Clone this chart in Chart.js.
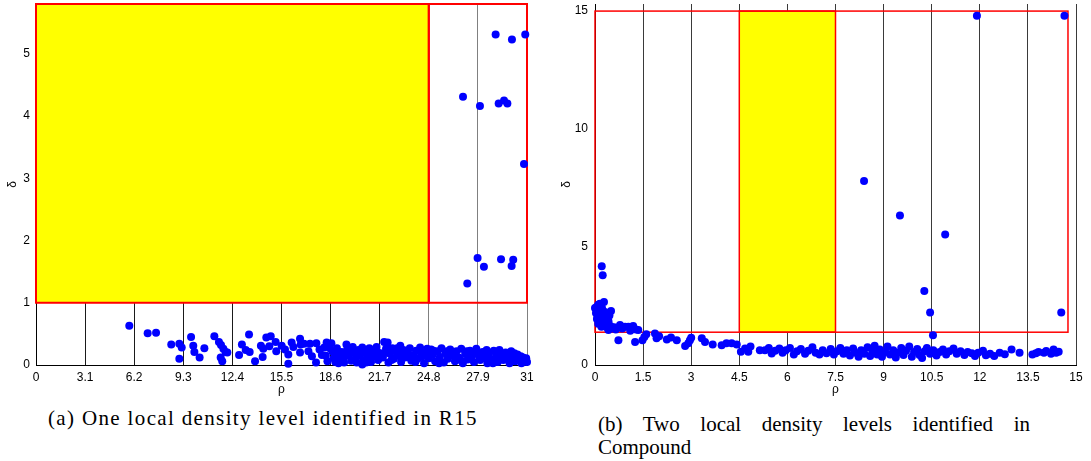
<!DOCTYPE html>
<html>
<head>
<meta charset="utf-8">
<script src="https://cdn.jsdelivr.net/npm/chart.js@4"></script>
<style>
  html, body { margin: 0; padding: 0; background: #fff; }
  body { width: 1091px; height: 461px; position: relative; overflow: hidden; }
  canvas { position: absolute; top: 0; }
  #r15 { left: 0; }
  #cmp { left: 550px; }
  .cap { position: absolute; font-family: 'Liberation Serif', serif; font-size: 21px; line-height: 23px; color: #000; white-space: nowrap; }
  #capA { left: 48px; top: 407px; letter-spacing: 1.35px; }
  #capB { left: 598px; top: 413px; width: 432px; }
  #capB .l1 { text-align: justify; text-align-last: justify; white-space: normal; }
</style>
</head>
<body>
<canvas id="r15" width="545" height="400"></canvas>
<canvas id="cmp" width="541" height="400"></canvas>
<div class="cap" id="capA">(a) One local density level identified in R15</div>
<div class="cap" id="capB"><div class="l1">(b) Two local density levels identified in</div><div>Compound</div></div>
<script>
// ---- R15: rho / delta decision graph ----
const r15RhoTicks = [0, 3.1, 6.2, 9.3, 12.4, 15.5, 18.6, 21.7, 24.8, 27.9, 31];
const r15DeltaTicks = [0, 1, 2, 3, 4, 5];
const r15Range = [0, 31, 0, 5.8];
// selected region [rhoFrom, rhoTo, deltaFrom, deltaTo]
const r15Shaded = [0, 24.8, 1, 5.8];
const r15Frame = [24.8, 31, 1, 5.8];

// cluster centres (high delta)
const r15Peaks = [
  [29.02, 5.31], [30.05, 5.23], [30.89, 5.31], [26.96, 4.31], [28.03, 4.16],
  [29.21, 4.20], [29.55, 4.25], [29.76, 4.20], [30.81, 3.23], [27.88, 1.72],
  [29.36, 1.70], [30.13, 1.69], [28.28, 1.58], [30.03, 1.59], [27.23, 1.31]
];
// low-density points, sparse part
const r15Sparse = [
  [5.89, 0.63], [7.05, 0.51], [7.58, 0.52], [8.54, 0.33], [9.05, 0.34], [9.2, 0.28], [9.05, 0.10],
  [9.79, 0.45], [9.93, 0.31], [10.0, 0.21], [10.33, 0.12], [10.63, 0.27], [11.26, 0.46], [11.55, 0.37],
  [11.68, 0.32], [11.83, 0.26], [11.97, 0.21], [12.08, 0.20], [11.66, 0.12], [11.76, 0.06], [12.82, 0.16],
  [13.0, 0.33], [13.24, 0.24], [13.45, 0.49], [13.49, 0.21], [13.83, 0.06], [14.2, 0.31], [14.35, 0.26],
  [14.31, 0.13], [14.54, 0.44], [14.82, 0.46], [14.73, 0.30], [15.13, 0.37], [15.17, 0.22], [15.51, 0.31],
  [15.72, 0.25], [15.93, 0.17], [16.14, 0.36], [16.25, 0.29], [16.67, 0.42], [16.71, 0.33], [16.67, 0.20],
  [16.92, 0.34], [17.3, 0.34], [17.2, 0.22], [17.42, 0.14], [17.68, 0.04], [15.93, 0.02], [17.7, 0.35],
  [17.9, 0.25], [18.05, 0.16]
];
// low-density points, dense band
const r15Band = [
  [18.2, 0.28], [18.3, 0.15], [18.4, 0.06], [18.35, 0.36], [18.65, 0.35], [18.7, 0.22], [18.8, 0.11],
  [19.0, 0.27], [19.05, 0.17], [19.1, 0.03], [19.3, 0.21], [19.4, 0.10], [19.45, 0.04], [19.6, 0.33],
  [19.65, 0.25], [19.75, 0.15], [19.9, 0.07], [20.0, 0.29], [20.1, 0.19], [20.2, 0.11], [20.35, 0.24],
  [20.45, 0.15], [20.6, 0.01], [20.6, 0.28], [20.7, 0.08], [20.8, 0.20], [20.95, 0.13], [21.05, 0.27],
  [21.15, 0.05], [21.3, 0.22], [21.4, 0.14], [21.5, 0.29], [21.6, 0.08], [21.75, 0.19], [21.9, 0.12],
  [21.98, 0.37], [22.2, 0.36], [22.1, 0.26], [22.25, 0.04], [22.35, 0.18], [22.5, 0.27], [22.6, 0.10],
  [22.75, 0.21], [22.9, 0.15], [23.0, 0.31], [23.05, 0.05], [23.2, 0.24], [23.3, 0.12], [23.45, 0.19],
  [23.6, 0.27], [23.7, 0.07], [23.85, 0.16], [24.0, 0.23], [24.1, 0.10], [24.25, 0.28], [24.4, 0.14],
  [24.5, 0.03], [24.65, 0.21], [24.8, 0.11], [24.95, 0.25], [25.05, 0.17], [25.2, 0.06], [25.35, 0.22],
  [25.5, 0.13], [25.6, 0.27], [25.75, 0.04], [25.85, 0.19], [26.0, 0.10], [26.15, 0.25], [26.3, 0.15],
  [26.45, 0.06], [26.55, 0.22], [26.7, 0.12], [26.85, 0.26], [26.95, 0.03], [27.1, 0.18], [27.25, 0.09],
  [27.4, 0.23], [27.5, 0.14], [27.65, 0.05], [27.8, 0.26], [27.9, 0.17], [28.05, 0.08], [28.2, 0.21],
  [28.35, 0.12], [28.5, 0.03], [28.6, 0.18], [28.75, 0.09], [28.9, 0.23], [29.05, 0.14], [29.15, 0.05],
  [29.26, 0.24], [29.4, 0.16], [29.5, 0.08], [29.65, 0.20], [29.8, 0.11], [29.9, 0.03], [30.0, 0.22],
  [30.1, 0.14], [30.25, 0.06], [30.4, 0.17], [30.5, 0.09], [30.65, 0.03], [30.75, 0.12], [30.84, 0.07],
  [30.95, 0.11], [31.0, 0.05],
  [18.55, 0.27], [18.9, 0.05], [19.2, 0.12], [19.55, 0.19], [19.85, 0.22], [20.25, 0.04], [20.5, 0.21],
  [20.85, 0.04], [21.2, 0.16], [21.55, 0.21], [22.0, 0.19], [22.45, 0.08], [22.8, 0.27], [23.15, 0.17],
  [23.55, 0.12], [23.95, 0.05], [24.3, 0.20], [24.7, 0.26], [25.1, 0.23], [25.45, 0.03], [25.95, 0.22],
  [26.4, 0.19], [26.8, 0.08], [27.2, 0.22], [27.6, 0.19], [28.0, 0.13], [28.45, 0.24], [28.85, 0.03],
  [29.3, 0.10], [29.75, 0.17], [30.2, 0.19], [30.6, 0.14]
];

// ---- Compound: rho / delta decision graph ----
const cmpRhoTicks = [0, 1.5, 3, 4.5, 6, 7.5, 9, 10.5, 12, 13.5, 15];
const cmpDeltaTicks = [0, 5, 10, 15];
const cmpRange = [0, 15, 0, 15.3];
const cmpShaded = [4.5, 7.5, 1.39, 15];
const cmpFrame = [0, 14.75, 1.39, 15];

const cmpPeaks = [
  [11.91, 14.8], [14.64, 14.8], [8.39, 7.80], [9.51, 6.34], [10.92, 5.53], [10.27, 3.14],
  [10.45, 2.23], [10.54, 1.26], [14.54, 2.23], [0.21, 4.18], [0.24, 3.80]
];
const cmpHead = [
  [0.0, 2.42], [0.03, 2.2], [0.05, 2.46], [0.06, 1.95], [0.08, 2.05], [0.1, 2.55], [0.1, 1.75],
  [0.13, 2.32], [0.15, 2.6], [0.16, 1.9], [0.18, 2.15], [0.2, 1.62], [0.22, 2.4], [0.25, 1.8],
  [0.28, 2.67], [0.28, 2.05], [0.31, 2.25], [0.33, 1.7], [0.35, 1.95], [0.38, 2.12], [0.4, 1.55],
  [0.42, 1.85], [0.45, 2.1], [0.48, 1.65], [0.5, 2.29], [0.42, 1.48], [0.55, 1.55], [0.6, 1.6], [0.65, 1.5]
];
const cmpTail = [
  [0.73, 1.05], [0.78, 1.69], [0.85, 1.55], [0.94, 1.62], [1.04, 1.62], [1.1, 1.45], [1.19, 1.65],
  [1.25, 0.98], [1.28, 1.5], [1.35, 1.48], [1.48, 1.05], [1.54, 1.19], [1.6, 1.3], [1.87, 1.34],
  [1.92, 1.13], [2.0, 1.22], [2.24, 1.08], [2.37, 1.17], [2.55, 1.05], [2.81, 0.8], [2.91, 0.92],
  [2.96, 1.05], [3.0, 1.15], [3.33, 1.13], [3.43, 0.98], [3.67, 0.87], [3.95, 0.84], [4.1, 0.92],
  [4.26, 0.92], [4.42, 0.87]
];
const cmpBand = [
  [4.55, 0.56], [4.68, 0.70], [4.78, 0.56], [4.85, 0.78], [5.14, 0.63], [5.3, 0.63], [5.42, 0.72],
  [5.51, 0.49], [5.62, 0.6], [5.75, 0.7], [5.85, 0.52], [5.95, 0.62], [6.08, 0.72], [6.2, 0.45],
  [6.3, 0.58], [6.42, 0.68], [6.55, 0.48], [6.65, 0.6], [6.78, 0.75], [6.88, 0.52], [7.0, 0.44],
  [7.1, 0.62], [7.22, 0.5], [7.35, 0.68], [7.45, 0.45], [7.55, 0.58], [7.65, 0.72], [7.75, 0.48],
  [7.85, 0.62], [7.95, 0.4], [8.05, 0.7], [8.12, 0.52], [8.22, 0.35], [8.3, 0.62], [8.4, 0.48],
  [8.5, 0.75], [8.58, 0.38], [8.65, 0.58], [8.72, 0.82], [8.8, 0.45], [8.88, 0.66], [8.95, 0.35],
  [9.05, 0.55], [9.12, 0.78], [9.2, 0.45], [9.3, 0.62], [9.38, 0.32], [9.45, 0.52], [9.55, 0.72],
  [9.62, 0.42], [9.7, 0.6], [9.8, 0.78], [9.88, 0.35], [9.95, 0.55], [10.05, 0.68], [10.12, 0.42],
  [10.2, 0.3], [10.28, 0.58], [10.35, 0.72], [10.45, 0.48], [10.55, 0.62], [10.65, 0.4], [10.75, 0.55],
  [10.85, 0.66], [10.95, 0.45], [11.05, 0.58], [11.18, 0.7], [11.28, 0.48], [11.4, 0.58], [11.52, 0.42],
  [11.62, 0.55], [11.75, 0.5], [11.85, 0.38], [11.95, 0.52], [12.1, 0.6], [12.19, 0.41], [12.32, 0.48],
  [12.45, 0.38], [12.62, 0.52], [12.78, 0.46], [12.99, 0.66], [13.24, 0.52], [13.64, 0.45], [13.75, 0.5],
  [13.83, 0.55], [14.0, 0.52], [14.07, 0.59], [14.22, 0.48], [14.3, 0.66], [14.38, 0.52], [14.46, 0.56]
];

const tickFont = { family: "'Liberation Sans', Arial, sans-serif", size: 12 };

// yellow selection box + red frames, drawn over the grid but under the points
const regionPlugin = {
  id: 'regions',
  beforeDatasetsDraw(chart, args, opts) {
    const { ctx, scales: { x, y } } = chart;
    const rect = b => {
      const x0 = x.getPixelForValue(b[0]), x1 = x.getPixelForValue(b[1]);
      const y0 = y.getPixelForValue(b[3]), y1 = y.getPixelForValue(b[2]);
      return [x0, y0, x1 - x0, y1 - y0];
    };
    ctx.save();
    ctx.fillStyle = '#ffff00';
    opts.fills.forEach(b => ctx.fillRect(...rect(b)));
    ctx.strokeStyle = '#ff0000';
    ctx.lineWidth = opts.lineWidth;
    opts.frames.forEach(b => ctx.strokeRect(...rect(b)));
    ctx.restore();
  }
};

function toXY(...lists) {
  return [].concat(...lists).map(p => ({ x: p[0], y: p[1] }));
}

function decisionGraph(id, cfg) {
  return new Chart(document.getElementById(id), {
    type: 'scatter',
    data: {
      datasets: [{
        data: cfg.points,
        backgroundColor: '#0000ff',
        borderWidth: 0,
        pointRadius: 4,
        clip: false
      }]
    },
    plugins: [regionPlugin],
    options: {
      responsive: false,
      animation: false,
      events: [],
      layout: { padding: { top: 3, right: cfg.padRight, left: 0, bottom: 0 } },
      plugins: {
        legend: { display: false },
        tooltip: { enabled: false },
        regions: { fills: cfg.fills, frames: cfg.frames, lineWidth: cfg.frameWidth }
      },
      scales: {
        x: {
          type: 'linear',
          min: cfg.range[0],
          max: cfg.range[1],
          afterBuildTicks: s => { s.ticks = cfg.xTicks.map(v => ({ value: v })); },
          afterFit: s => { s.height = 35; s.paddingLeft = 0; s.paddingRight = 0; },
          ticks: { font: tickFont, color: '#000', padding: 5, maxRotation: 0, autoSkip: false, callback: v => String(v) },
          grid: { color: cfg.gridColor, lineWidth: 1, drawTicks: false },
          border: { display: true, color: '#000', width: 1 },
          title: { display: true, text: 'ρ', font: tickFont, color: '#000', padding: { top: 0, bottom: 3 } }
        },
        y: {
          type: 'linear',
          min: cfg.range[2],
          max: cfg.range[3],
          afterBuildTicks: s => { s.ticks = cfg.yTicks.map(v => ({ value: v })); },
          afterFit: s => { s.width = cfg.yWidth; s.paddingTop = 0; s.paddingBottom = 0; },
          ticks: { font: tickFont, color: '#000', padding: cfg.yPad, callback: v => String(v) },
          grid: { display: false, drawTicks: false },
          border: { display: true, color: '#000', width: 1 },
          title: { display: true, text: 'δ', font: tickFont, color: '#000', padding: { top: cfg.titlePad, bottom: 0 } }
        }
      }
    }
  });
}

decisionGraph('r15', {
  points: toXY(r15Band, r15Sparse, r15Peaks),
  range: r15Range,
  xTicks: r15RhoTicks,
  yTicks: r15DeltaTicks,
  fills: [r15Shaded],
  frames: [r15Shaded, r15Frame],
  frameWidth: 2,
  gridColor: c => (c.tick && c.tick.value >= 24.8 ? '#808080' : '#1a1a1a'),
  padRight: 18,
  yWidth: 36,
  yPad: 6,
  titlePad: 5
});

decisionGraph('cmp', {
  points: toXY(cmpBand, cmpTail, cmpHead, cmpPeaks),
  range: cmpRange,
  xTicks: cmpRhoTicks,
  yTicks: cmpDeltaTicks,
  fills: [cmpShaded],
  frames: [cmpShaded, cmpFrame],
  frameWidth: 1.5,
  gridColor: '#3a3a3a',
  padRight: 15,
  yWidth: 45,
  yPad: 7,
  titlePad: 9
});
</script>
</body>
</html>
